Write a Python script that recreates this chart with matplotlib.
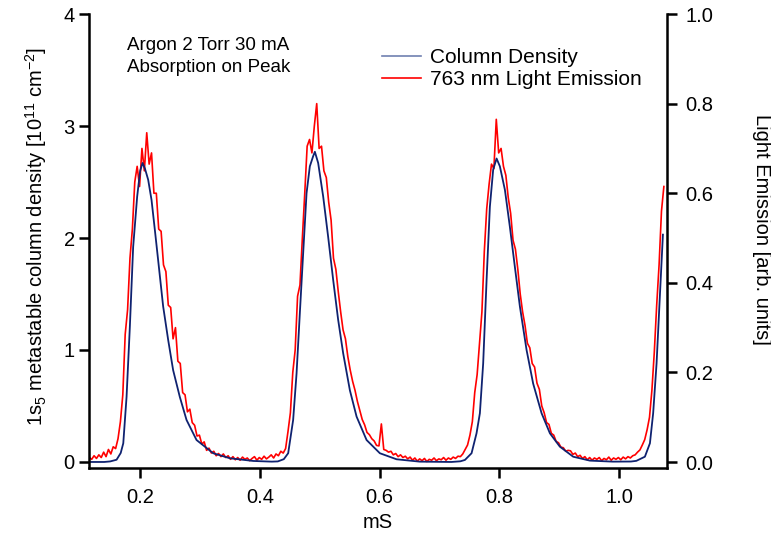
import numpy as np
import matplotlib
matplotlib.use('Agg')
import matplotlib.pyplot as plt
from matplotlib.lines import Line2D

# fonts: Arial-like look
plt.rcParams['font.family'] = ['Liberation Sans', 'DejaVu Sans']
plt.rcParams['mathtext.fontset'] = 'custom'
plt.rcParams['mathtext.rm'] = 'Liberation Sans'
plt.rcParams['mathtext.default'] = 'regular'

# column density trace (left axis, 1e11 cm^-2)
t_density = [0.115, 0.140, 0.150, 0.1606, 0.1675, 0.1718, 0.1773, 0.1828, 0.1883, 0.195,
             0.200, 0.204, 0.208, 0.2134, 0.219, 0.2246, 0.2301, 0.2384, 0.2468, 0.2551,
             0.2663, 0.2775, 0.2942, 0.322, 0.350, 0.389, 0.420, 0.430, 0.440, 0.4473,
             0.4556, 0.4613, 0.4668, 0.4723, 0.478, 0.4835, 0.489, 0.4919, 0.4974, 0.5058,
             0.5141, 0.5225, 0.5308, 0.5392, 0.5504, 0.5616, 0.5783, 0.6005, 0.6284, 0.667,
             0.720, 0.735, 0.7426, 0.7537, 0.762, 0.7676, 0.7731, 0.7788, 0.7843, 0.7898,
             0.7955, 0.801, 0.8094, 0.8177, 0.8261, 0.8344, 0.8456, 0.8566, 0.8707, 0.8846,
             0.9012, 0.9235, 0.9514, 0.990, 1.020, 1.029, 1.0433, 1.0517, 1.0571, 1.0628,
             1.0683, 1.0734]
density = [0.0, 0.0, 0.005, 0.02, 0.08, 0.167, 0.583, 1.21, 1.92, 2.37,
           2.60, 2.67, 2.62, 2.52, 2.34, 2.07, 1.80, 1.39, 1.09, 0.82,
           0.58, 0.375, 0.196, 0.078, 0.033, 0.009, 0.003, 0.005, 0.025, 0.078,
           0.375, 0.79, 1.33, 1.86, 2.40, 2.64, 2.73, 2.77, 2.67, 2.37,
           2.01, 1.625, 1.27, 0.97, 0.64, 0.405, 0.196, 0.078, 0.024, 0.003,
           0.0, 0.006, 0.018, 0.078, 0.256, 0.435, 0.88, 1.625, 2.28, 2.61,
           2.71, 2.64, 2.43, 2.10, 1.74, 1.39, 1.0, 0.70, 0.435, 0.256,
           0.137, 0.047, 0.012, 0.003, 0.004, 0.01, 0.047, 0.167, 0.435, 0.88,
           1.48, 2.03]

# 763 nm light emission (right axis, arb. units), one value every 4 us from 0.115 ms
light = [0.010, 0.006, 0.014, 0.008, 0.016, 0.010, 0.022, 0.012, 0.028, 0.018,
         0.034, 0.030, 0.052, 0.090, 0.150, 0.285, 0.340, 0.455, 0.520, 0.625,
         0.660, 0.615, 0.700, 0.650, 0.735, 0.665, 0.690, 0.600, 0.600, 0.520,
         0.515, 0.440, 0.425, 0.350, 0.345, 0.275, 0.300, 0.225, 0.220, 0.155,
         0.150, 0.112, 0.118, 0.088, 0.082, 0.058, 0.060, 0.040, 0.045, 0.026,
         0.031, 0.020, 0.024, 0.014, 0.019, 0.012, 0.018, 0.010, 0.014, 0.006,
         0.012, 0.005, 0.010, 0.004, 0.011, 0.006, 0.009, 0.003, 0.008, 0.012,
         0.004, 0.010, 0.006, 0.013, 0.007, 0.011, 0.016, 0.009, 0.018, 0.014,
         0.024, 0.020, 0.030, 0.068, 0.110, 0.200, 0.250, 0.370, 0.395, 0.500,
         0.600, 0.705, 0.720, 0.690, 0.750, 0.800, 0.700, 0.705, 0.650, 0.635,
         0.580, 0.540, 0.455, 0.430, 0.380, 0.335, 0.295, 0.275, 0.235, 0.205,
         0.180, 0.160, 0.135, 0.115, 0.095, 0.083, 0.066, 0.061, 0.052, 0.047,
         0.037, 0.036, 0.085, 0.028, 0.026, 0.022, 0.024, 0.016, 0.019, 0.012,
         0.016, 0.010, 0.013, 0.007, 0.011, 0.004, 0.009, 0.002, 0.007, 0.003,
         0.008, 0.001, 0.006, 0.004, 0.009, 0.003, 0.007, 0.005, 0.010, 0.004,
         0.009, 0.006, 0.011, 0.008, 0.013, 0.012, 0.018, 0.028, 0.038, 0.060,
         0.090, 0.155, 0.195, 0.265, 0.335, 0.470, 0.565, 0.620, 0.665, 0.655,
         0.765, 0.690, 0.700, 0.660, 0.640, 0.590, 0.555, 0.495, 0.475, 0.430,
         0.375, 0.335, 0.305, 0.265, 0.255, 0.220, 0.212, 0.176, 0.162, 0.125,
         0.110, 0.088, 0.084, 0.064, 0.060, 0.046, 0.043, 0.033, 0.032, 0.024,
         0.026, 0.025, 0.017, 0.020, 0.012, 0.015, 0.008, 0.012, 0.005, 0.010,
         0.004, 0.009, 0.006, 0.010, 0.003, 0.008, 0.005, 0.011, 0.004, 0.009,
         0.006, 0.010, 0.005, 0.011, 0.007, 0.012, 0.009, 0.014, 0.016, 0.022,
         0.027, 0.038, 0.050, 0.072, 0.100, 0.160, 0.245, 0.350, 0.440, 0.560,
         0.615]
t_light = np.linspace(0.115, 1.075, len(light))

x_ticks = [0.2, 0.4, 0.6, 0.8, 1.0]
left_ticks = [0, 1, 2, 3, 4]
right_ticks = [0.0, 0.2, 0.4, 0.6, 0.8, 1.0]

blue = '#0f2270'
red = '#ff0000'

fig = plt.figure(figsize=(7.71, 5.4), dpi=100)
ax = fig.add_axes([0.1158, 0.1333, 0.7489, 0.8407])
ax2 = ax.twinx()

# red on the right axis, blue on the left axis drawn on top
ax2.plot(t_light, light, color=red, lw=1.2)
ax.plot(t_density, density, color=blue, lw=1.3)
ax.set_zorder(ax2.get_zorder() + 1)
ax.patch.set_visible(False)

ax.set_xlim(0.115, 1.0797)
ax.set_ylim(-0.054, 4.0)
ax2.set_ylim(-0.0134, 1.0)

ax.set_xticks(x_ticks)
ax.set_xticklabels([f'{v:.1f}' for v in x_ticks])
ax.set_yticks(left_ticks)
ax2.set_yticks(right_ticks)
ax2.set_yticklabels([f'{v:.1f}' for v in right_ticks])

# Igor-like axes: no top spine, thick black lines, outward ticks
for a in (ax, ax2):
    a.spines['top'].set_visible(False)
    for s in a.spines.values():
        s.set_linewidth(1.8)
ax.spines['right'].set_visible(False)
ax2.spines['left'].set_visible(False)
ax2.spines['bottom'].set_visible(False)

ax.tick_params(axis='x', direction='out', length=7.5, width=1.8, pad=7, labelsize=14.5)
ax.tick_params(axis='y', direction='out', length=7.5, width=1.8, pad=3, labelsize=14.5)
ax2.tick_params(axis='y', direction='out', length=7.5, width=1.8, pad=6, labelsize=14.5)

ax.set_xlabel('mS', fontsize=14.5, labelpad=4)
ax.set_ylabel('1s$_5$ metastable column density [10$^{11}$ cm$^{-2}$]', fontsize=14.5)
ax.yaxis.label.set_va('center')
ax.yaxis.set_label_coords(-0.092, 0.511)
ax2.set_ylabel('Light Emission [arb. units]', fontsize=14.5, rotation=270)
ax2.yaxis.label.set_va('center')
ax2.yaxis.set_label_coords(1.165, 0.525)

# run conditions
fig.text(127 / 771, 1 - 45 / 540, 'Argon 2 Torr 30 mA', fontsize=13.5, va='center')
fig.text(127 / 771, 1 - 67 / 540, 'Absorption on Peak', fontsize=13.5, va='center')

handles = [Line2D([], [], color='#7080b0', lw=1.2), Line2D([], [], color=red, lw=1.2)]
ax.legend(handles, ['Column Density', '763 nm Light Emission'], loc='upper left',
          bbox_to_anchor=(382 / 771, 1 - 48 / 540), bbox_transform=fig.transFigure,
          frameon=False, fontsize=15, handlelength=1.85, handletextpad=0.45,
          labelspacing=0.15, borderpad=0, borderaxespad=0)

fig.savefig('out.png', dpi=100)
